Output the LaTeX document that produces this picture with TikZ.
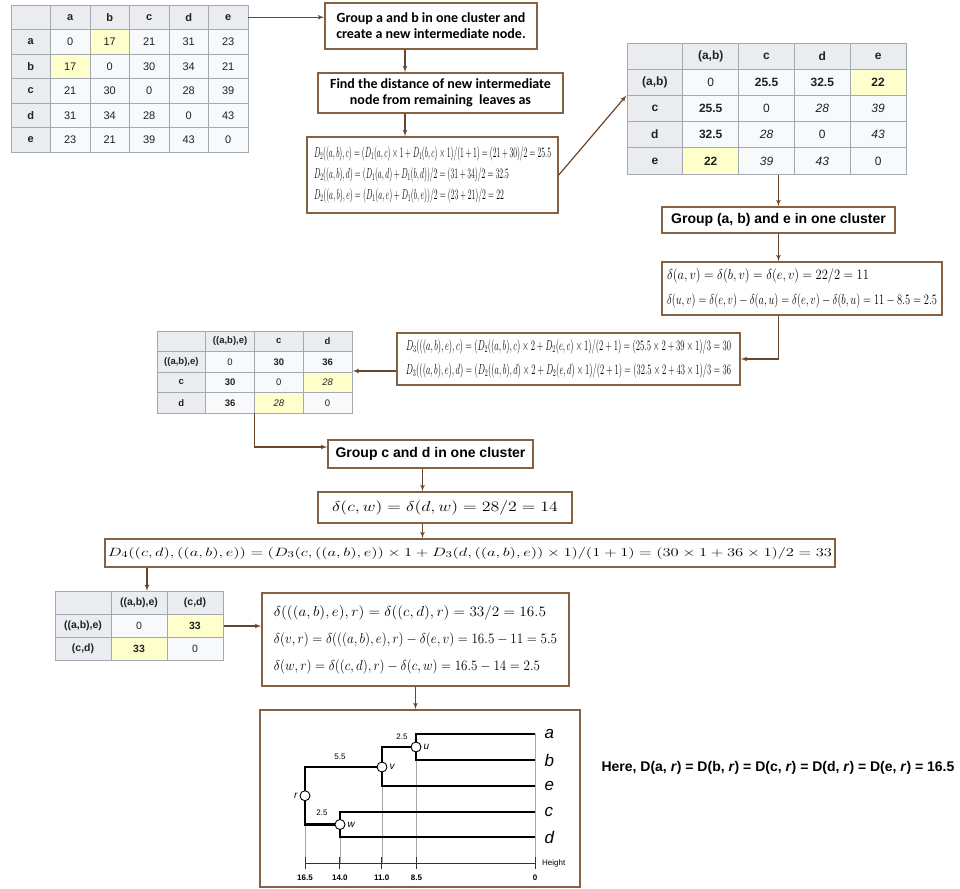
\documentclass[tikz,border=0pt]{standalone}
\usepackage{fontspec}
\usepackage{amsmath}
\setsansfont{Liberation Sans}
\newfontfamily\calfont{Carlito}
\usetikzlibrary{arrows}
\usetikzlibrary{matrix}
\usetikzlibrary{positioning}
\definecolor{mbrown}{rgb}{0.52, 0.38, 0.26}
\definecolor{marrow}{rgb}{0.42, 0.27, 0.16}
\definecolor{tabline}{HTML}{A2A9B1}
\definecolor{tabhead}{HTML}{EAECF0}
\definecolor{tabcell}{HTML}{F8F9FA}
\definecolor{tabhl}{HTML}{FFFFCC}
\definecolor{tabtext}{HTML}{202122}
\newcommand{\fsz}[2]{\fontsize{#1}{#2}\selectfont}
\newcommand{\fitto}[2]{\resizebox{#1pt}{\height}{#2}}
\newcommand{\tabsize}{}
\tikzset{box/.style = {draw=mbrown, line width=1.5, fill=white, inner sep=0}}
\tikzset{cal/.style = {font=\calfont\bfseries\fsz{14}{16}, align=center}}
\tikzset{grp/.style = {font=\sffamily\bfseries\fsz{14}{16}}}
\tikzset{flow/.style = {draw=marrow, line width=1.2, -latex'}}
\tikzset{tsize/.code = {\def\tabsize{\fsz{#1}{#1}}}}
\tikzset{tab/.style = {matrix of nodes, nodes in empty cells, inner sep=0,
                       column sep=-0.8, row sep=-0.8,
                       nodes={draw=tabline, line width=0.8, fill=tabcell, text=tabtext, anchor=center,
                              font=\sffamily\tabsize},
                       row 1/.style={nodes={fill=tabhead, font=\sffamily\bfseries\tabsize}},
                       column 1/.style={nodes={fill=tabhead, font=\sffamily\bfseries\tabsize}}}}
\tikzset{hl/.style = {fill=tabhl}}
\tikzset{dend/.style = {draw=black, line width=2.6}}
\tikzset{guide/.style = {draw=gray!70, line width=0.5}}
\tikzset{axisln/.style = {draw=black!80, line width=0.7}}
\tikzset{joint/.style = {circle, draw=black, fill=white, line width=0.9, minimum size=10, inner sep=0}}
\tikzset{lbl/.style = {font=\sffamily\itshape\fsz{10}{12}, inner sep=1}}
\tikzset{leaf/.style = {font=\sffamily\itshape\fsz{17}{17}}}
\tikzset{small/.style = {font=\sffamily\fsz{8}{9}, inner sep=1}}

\begin{document}
\begin{tikzpicture}[x=1pt, y=-1pt]
    \useasboundingbox (0,0) rectangle (960,888);

    % distance tables
    \matrix (t1) [tab, tsize=11, nodes={minimum width=39.5, minimum height=24.5}] at (129.5,78.5) {
        & a & b & c & d & e \\
      a & 0 & |[hl]| 17 & 21 & 31 & 23 \\
      b & |[hl]| 17 & 0 & 30 & 34 & 21 \\
      c & 21 & 30 & 0 & 28 & 39 \\
      d & 31 & 34 & 28 & 0 & 43 \\
      e & 23 & 21 & 39 & 43 & 0 \\
    };

    \matrix (t2) [tab, tsize=12, nodes={minimum width=55.8, minimum height=26.2}] at (766.5,108.5) {
            & (a,b) & c & d & e \\
      (a,b) & 0 & \textbf{25.5} & \textbf{32.5} & |[hl]| \textbf{22} \\
      c & \textbf{25.5} & 0 & \textit{28} & \textit{39} \\
      d & \textbf{32.5} & \textit{28} & 0 & \textit{43} \\
      e & |[hl]| \textbf{22} & \textit{39} & \textit{43} & 0 \\
    };

    \matrix (t3) [tab, tsize=9.5, nodes={minimum width=48.75, minimum height=20.5}] at (254.5,372) {
                & ((a,b),e) & c & d \\
      ((a,b),e) & 0 & \textbf{30} & \textbf{36} \\
      c & \textbf{30} & 0 & |[hl]| \textit{28} \\
      d & \textbf{36} & |[hl]| \textit{28} & 0 \\
    };

    \matrix (t4) [tab, tsize=10.5, nodes={minimum width=56, minimum height=23}] at (139,626) {
                & ((a,b),e) & (c,d) \\
      ((a,b),e) & 0 & |[hl]| \textbf{33} \\
      (c,d) & |[hl]| \textbf{33} & 0 \\
    };

    % steps
    \node [box, cal, minimum width=212, minimum height=46] (b1) at (431,26)
      {Group a and b in one cluster and\\create a new intermediate node.};
    \node [box, cal, minimum width=245, minimum height=40] (b2) at (440.5,93)
      {Find the distance of new intermediate\\node from remaining\ \ leaves as};
    \node [box, align=left, font=\fsz{14}{21}, minimum width=251, minimum height=76] (b3) at (432.5,175)
      {\fitto{237}{$D_2((a,b),c)=(D_1(a,c)\times 1+D_1(b,c)\times 1)/(1+1)=(21+30)/2=25.5$}\\
       \fitto{195}{$D_2((a,b),d)=(D_1(a,d)+D_1(b,d))/2=(31+34)/2=32.5$}\\
       \fitto{190}{$D_2((a,b),e)=(D_1(a,e)+D_1(b,e))/2=(23+21)/2=22$}};
    \node [box, grp, minimum width=233, minimum height=26] (b4) at (778.5,220)
      {Group (a, b) and e in one cluster};
    \node [box, align=left, font=\fsz{14}{25}, minimum width=280, minimum height=53] (b5) at (802,288.5)
      {\fitto{202}{$\delta(a,v)=\delta(b,v)=\delta(e,v)=22/2=11$}\\
       \fitto{270}{$\delta(u,v)=\delta(e,v)-\delta(a,u)=\delta(e,v)-\delta(b,u)=11-8.5=2.5$}};
    \node [box, align=left, font=\fsz{14}{24}, minimum width=343, minimum height=52] (b6) at (568.5,359)
      {\fitto{325}{$D_3(((a,b),e),c)=(D_2((a,b),c)\times 2+D_2(e,c)\times 1)/(2+1)=(25.5\times 2+39\times 1)/3=30$}\\
       \fitto{325}{$D_3(((a,b),e),d)=(D_2((a,b),d)\times 2+D_2(e,d)\times 1)/(2+1)=(32.5\times 2+43\times 1)/3=36$}};
    \node [box, grp, minimum width=205, minimum height=28] (b7) at (430.5,454)
      {Group c and d in one cluster};
    \node [box, font=\fsz{15}{18}, minimum width=254, minimum height=31] (b8) at (445,507.5)
      {\fitto{226}{$\delta(c,w)=\delta(d,w)=28/2=14$}};
    \node [box, font=\fsz{13}{16}, minimum width=730, minimum height=28] (b9) at (470,553)
      {\fitto{724}{$D_4((c,d),((a,b),e))=(D_3(c,((a,b),e))\times 1+D_3(d,((a,b),e))\times 1)/(1+1)=(30\times 1+36\times 1)/2=33$}};
    \node [box, align=left, font=\fsz{14}{27}, minimum width=307, minimum height=93] (b10) at (415.5,639.5)
      {\fitto{272}{$\delta(((a,b),e),r)=\delta((c,d),r)=33/2=16.5$}\\
       \fitto{283}{$\delta(v,r)=\delta(((a,b),e),r)-\delta(e,v)=16.5-11=5.5$}\\
       \fitto{266}{$\delta(w,r)=\delta((c,d),r)-\delta(c,w)=16.5-14=2.5$}};
    \node [box, minimum width=320, minimum height=177] (dg) at (420,798.5) {};

    \node [grp, anchor=west] (here) at (598,768)
      {Here, D(a, \textit{r}) = D(b, \textit{r}) = D(c, \textit{r}) = D(d, \textit{r}) = D(e, \textit{r}) = 16.5};

    % connectors
    \draw [flow] (t1-1-6.east) -- (t1-1-6.east -| b1.west);
    \draw [flow] ([xshift=-26]b1.south) -- ([xshift=-26]b1.south |- b2.north);
    \draw [flow] ([xshift=-26]b1.south |- b2.south) -- ([xshift=-26]b1.south |- b3.north);
    \draw [flow] (b3.east) -- ([yshift=13]t2.west);
    \draw [flow] (b4.north |- t2.south) -- (b4.north);
    \draw [flow] (b4.south) -- (b4.south |- b5.north);
    \draw [flow] (b4.south |- b5.south) |- (b6.east);
    \draw [flow] ([yshift=-12]b6.west) -- ([yshift=-12]b6.west -| t3.east);
    \draw [flow] (t3-4-3.south west) |- ([yshift=7]b7.west);
    \draw [flow] ([xshift=-8]b7.south) -- ([xshift=-8]b7.south |- b8.north);
    \draw [flow] ([xshift=-8]b7.south |- b8.south) -- ([xshift=-8]b7.south |- b9.north);
    \draw [flow] ([xshift=8]t4.north |- b9.south) -- ([xshift=8]t4.north);
    \draw [flow] (t4.east) -- (t4.east -| b10.west);
    \draw [flow] (b10.south) -- (b10.south |- dg.north);

    % dendrogram
    \coordinate (la) at (535,734);
    \coordinate (lb) at (535,760);
    \coordinate (le) at (535,786);
    \coordinate (lc) at (535,812);
    \coordinate (ld) at (535,837);
    \coordinate (u) at (416,747);
    \coordinate (v) at (382,767);
    \coordinate (w) at (340,824.5);
    \coordinate (r) at (305,795.75);
    \coordinate (ax) at (0,863);

    \draw [guide] (la) -- (la |- ax);
    \draw [guide] (u |- lb) -- (u |- ax);
    \draw [guide] (v |- le) -- (v |- ax);
    \draw [guide] (w |- ld) -- (w |- ax);
    \draw [guide] (r |- w) -- (r |- ax);

    \draw [axisln] (r |- ax) -- (la |- ax);
    \foreach \h/\t in {16.5/16.5, 14/14.0, 11/11.0, 8.5/8.5, 0/0} {
      \draw [axisln] ({535-13.94*\h},857) -- ({535-13.94*\h},869);
      \node [small, font=\sffamily\bfseries\fsz{8}{9}] at ({535-13.94*\h},878) {\t};
    }
    \node [small, anchor=west] (hgt) at (541,863) {Height};

    \draw [dend] (la) -| (u) |- (lb);
    \draw [dend] (u) -| (v) |- (le);
    \draw [dend] (v) -| (r) |- (w);
    \draw [dend] (lc) -| (w) |- (ld);

    \node [joint] (nu) at (u) {};
    \node [joint] (nv) at (v) {};
    \node [joint] (nw) at (w) {};
    \node [joint] (nr) at (r) {};
    \node [lbl, right=1 of nu] {u};
    \node [lbl, right=1 of nv] {v};
    \node [lbl, right=1 of nw] {w};
    \node [lbl, left=1 of nr] {r};

    \node [small] (l1) at (402,737) {2.5};
    \node [small] (l2) at (340,757) {5.5};
    \node [small] (l3) at (322,813) {2.5};

    \node [leaf, right=6] (xa) at (la) {a};
    \node [leaf, right=6] (xb) at (lb) {b};
    \node [leaf, right=6] (xe) at (le) {e};
    \node [leaf, right=6] (xc) at (lc) {c};
    \node [leaf, right=6] (xd) at (ld) {d};
  \end{tikzpicture}
\end{document}
